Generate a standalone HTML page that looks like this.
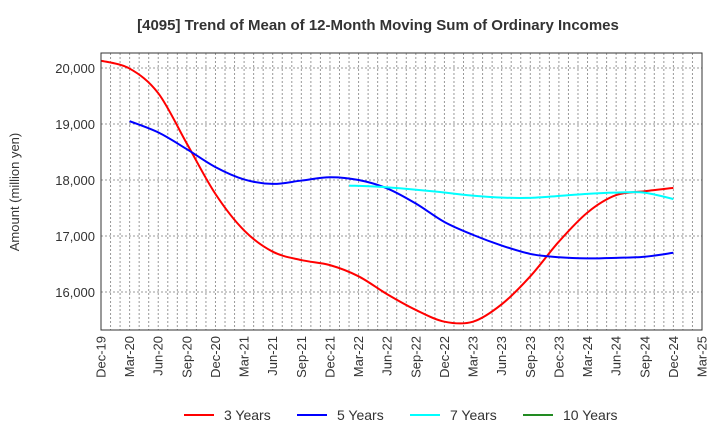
<!DOCTYPE html>
<html><head><meta charset="utf-8"><style>
body{margin:0;background:#fff;font-family:"Liberation Sans",sans-serif;}
</style></head><body>
<svg id="chart" width="720" height="440" xmlns="http://www.w3.org/2000/svg" font-family="Liberation Sans, sans-serif">
<text x="378" y="30" text-anchor="middle" font-size="15" font-weight="bold" fill="#333">[4095]  Trend of Mean of 12-Month Moving Sum of Ordinary Incomes</text>
<text transform="translate(19,192) rotate(-90)" text-anchor="middle" font-size="13" fill="#333">Amount (million yen)</text>
<g id="grid"></g>
<g id="series"></g>
<rect x="101" y="53" width="601" height="277" fill="none" stroke="#333" stroke-width="1"/>
<g id="axes"></g>
<g id="legend"></g>
</svg>
<script>
const xLabels=["Dec-19","Mar-20","Jun-20","Sep-20","Dec-20","Mar-21","Jun-21","Sep-21","Dec-21","Mar-22","Jun-22","Sep-22","Dec-22","Mar-23","Jun-23","Sep-23","Dec-23","Mar-24","Jun-24","Sep-24","Dec-24","Mar-25"];
const yTicks=[16000,17000,18000,19000,20000];
const yTickLabels=["16,000","17,000","18,000","19,000","20,000"];
const seriesNames=["3 Years","5 Years","7 Years","10 Years"];
const seriesColors=["#ff0000","#0000ff","#00ffff","#228b22"];
const s3Start=0;
const s3=[20130,19990,19550,18650,17750,17100,16720,16570,16480,16280,15960,15680,15470,15470,15780,16280,16900,17420,17730,17800,17860];
const s5Start=1;
const s5=[19050,18850,18550,18230,18010,17930,17990,18050,18000,17850,17580,17250,17020,16830,16680,16620,16600,16610,16630,16700];
const s7Start=8.67;
const s7=[17900,17880,17840,17790,17730,17690,17680,17710,17750,17775,17775,17660];
const s10Start=0;
const s10=[];
const NS="http://www.w3.org/2000/svg";
const L=101,R=702,T=53,B=330;
const xq=q=>L+(R-L)*q/21;
const ym=v=>68+(20000-v)*0.056;
function mk(tag,attrs,parent){const e=document.createElementNS(NS,tag);for(const k in attrs)e.setAttribute(k,attrs[k]);parent.appendChild(e);return e;}
const grid=document.getElementById('grid'),axes=document.getElementById('axes');
for(let m=1;m<63;m++){const x=L+(R-L)*m/63;
const g=mk('line',{x1:x,x2:x,y1:T,y2:B,stroke:'#999','stroke-dasharray':'2,2','stroke-width':1},grid);

}
yTicks.forEach((v,i)=>{const y=ym(v);
const g=mk('line',{x1:L,x2:R,y1:y,y2:y,stroke:'#999','stroke-dasharray':'2,2','stroke-width':1},grid);


const t=mk('text',{x:L-6,y:y+5,'text-anchor':'end','font-size':'13',fill:'#333'},axes);t.textContent=yTickLabels[i];

});
xLabels.forEach((s,i)=>{const x=xq(i);
const t=mk('text',{transform:`translate(${x+4.5},${B+6}) rotate(-90)`,'text-anchor':'end','font-size':'13',fill:'#333'},axes);t.textContent=s;

});
function path(pts){if(pts.length<2)return '';let d=`M${pts[0][0]},${pts[0][1]}`;
for(let i=0;i<pts.length-1;i++){const p0=pts[Math.max(0,i-1)],p1=pts[i],p2=pts[i+1],p3=pts[Math.min(pts.length-1,i+2)];
const c1=[p1[0]+(p2[0]-p0[0])/6,p1[1]+(p2[1]-p0[1])/6],c2=[p2[0]-(p3[0]-p1[0])/6,p2[1]-(p3[1]-p1[1])/6];
d+=` C${c1[0]},${c1[1]} ${c2[0]},${c2[1]} ${p2[0]},${p2[1]}`;}return d;}
const ser=document.getElementById('series');
[[s3,s3Start],[s5,s5Start],[s7,s7Start],[s10,s10Start]].forEach(([d,st],i)=>{
const span=(i===2)?(20-st)/(d.length-1):1;
const pts=d.map((v,j)=>[xq(st+j*span),ym(v)]);
const p=mk('path',{d:path(pts),fill:'none',stroke:seriesColors[i],'stroke-width':2},ser);

});
const leg=document.getElementById('legend');const lx=[184,297,410,523];
seriesNames.forEach((n,i)=>{
const l=mk('line',{x1:lx[i],x2:lx[i]+30,y1:415,y2:415,stroke:seriesColors[i],'stroke-width':2},leg);


const t=mk('text',{x:lx[i]+40,y:420,'font-size':'14',fill:'#333'},leg);t.textContent=n;

});
</script>
</body></html>
